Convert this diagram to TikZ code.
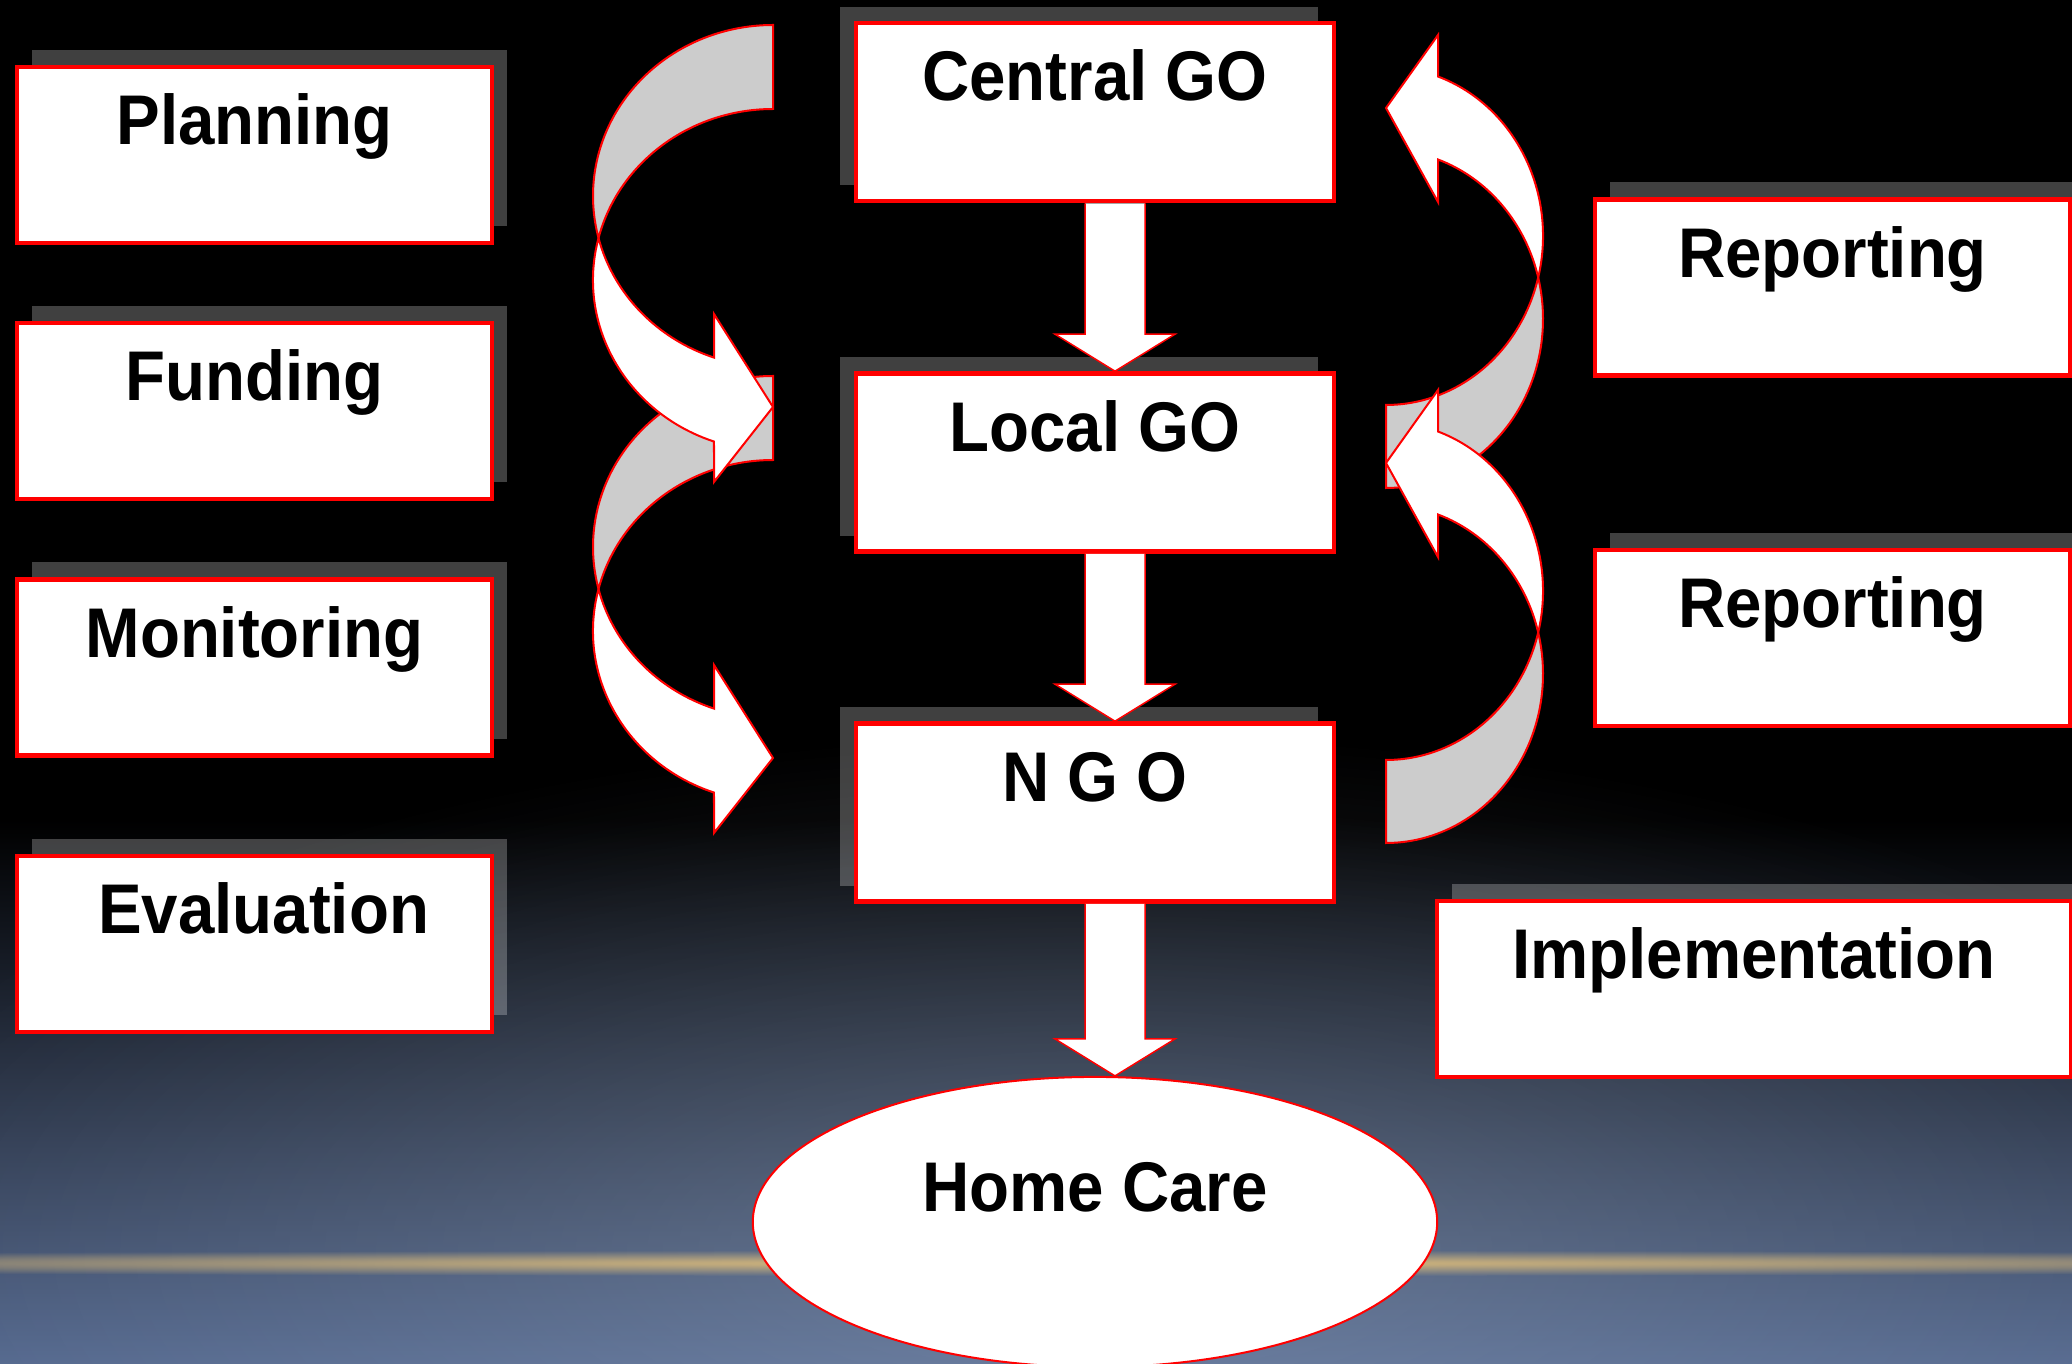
\documentclass[tikz,border=0pt]{standalone}
\usepackage{fontspec}
\newfontfamily\boxfont{Liberation Sans}[FakeStretch=0.93]
\usetikzlibrary{calc,shapes.geometric,shadows,fadings}
\definecolor{bgblue}{RGB}{84,104,142}
\definecolor{glowc}{RGB}{170,185,205}
\definecolor{streakc}{RGB}{240,200,120}
\definecolor{backgray}{RGB}{204,204,204}
\tikzfading[name=softglow, inner color=transparent!0, outer color=transparent!100]
\tikzset{
	box/.style={draw=red, line width=0.045cm, fill=white, inner sep=0pt,
		minimum width=4.75cm, text height=0.78cm, text depth=0.98cm,
		font=\boxfont\bfseries\fontsize{20}{24}\selectfont},
	midbox/.style={box, minimum width=4.78cm, text depth=1cm},
	sideshadow/.style={drop shadow={shadow xshift=0.15cm, shadow yshift=0.17cm, fill=white, opacity=0.25}},
	midshadow/.style={drop shadow={shadow xshift=-0.16cm, shadow yshift=0.16cm, fill=white, opacity=0.25}},
	blockarr/.style={draw=red, line width=0.015cm, fill=white, line join=miter},
	curvearr/.style={draw=red, line width=0.02cm, line join=miter},
}
\begin{document}
\begin{tikzpicture}[x=0.01cm, y=-0.01cm]
	\useasboundingbox (0,0) rectangle (2072,1364);
	\fill[black] (0,0) rectangle (2072,1364);
	\shade[top color=black, bottom color=bgblue] (0,820) rectangle (2072,1364);
	\fill[glowc, fill opacity=0.3, path fading=softglow] (1095,1250) ellipse[x radius=1300, y radius=520];
	\fill[streakc, fill opacity=0.85, path fading=softglow] (1095,1263) ellipse[x radius=2000, y radius=13];

	\foreach \dy in {351,0}{
		\begin{scope}[shift={(0,\dy)}]
			\draw[curvearr, fill=backgray] (773,25) arc[start angle=270, end angle=165.78, x radius=180, y radius=171]
				arc[start angle=194.22, end angle=270, x radius=180, y radius=171] -- cycle;
			\draw[curvearr, fill=white] (598.5,238) arc[start angle=194.22, end angle=109.13, x radius=180, y radius=171]
				-- (714,482) -- (773,407) -- (714,314) -- (714,357.6)
				arc[start angle=109.13, end angle=165.78, x radius=180, y radius=171] -- cycle;
		\end{scope}
	}
	\foreach \dy in {0,355}{
		\begin{scope}[shift={(0,\dy)}]
			\draw[curvearr, fill=backgray] (1386,488) arc[start angle=90, end angle=-14.22, x radius=157, y radius=169]
				arc[start angle=14.22, end angle=90, x radius=157, y radius=169] -- cycle;
			\draw[curvearr, fill=white] (1538.2,277.5) arc[start angle=14.22, end angle=-70.66, x radius=157, y radius=169]
				-- (1438,35) -- (1386,108) -- (1438,202) -- (1438,159.5)
				arc[start angle=-70.66, end angle=-14.22, x radius=157, y radius=169] -- cycle;
		\end{scope}
	}

	\node[box, sideshadow] (plan) at (254.5,155) {Planning};
	\node[box, sideshadow] (fund) at (254.5,411) {Funding};
	\node[box, sideshadow] (mon) at (254.5,667.5) {Monitoring};
	\node[box, sideshadow] (eval) at (254.5,944) {\ Evaluation};
	\node[midbox, midshadow] (cgo) at (1095,112) {Central GO};
	\node[midbox, midshadow] (lgo) at (1095,462.5) {Local GO};
	\node[midbox, midshadow] (ngo) at (1095,812.5) {N G O};
	\node[box, sideshadow] (rep1) at (1832.5,287.5) {Reporting};
	\node[box, sideshadow] (rep2) at (1832.5,638) {Reporting};
	\node[box, sideshadow, minimum width=6.34cm] (impl) at (1754,989) {Implementation};
	\node[ellipse, draw=red, line width=0.02cm, fill=white, minimum width=6.84cm, minimum height=2.9cm,
		inner sep=0pt, text height=0.5cm, text depth=0.7cm,
		font=\boxfont\bfseries\fontsize{20}{24}\selectfont] (home) at (1095,1222) {Home Care};

	\foreach \s/\t in {cgo/lgo,lgo/ngo,ngo/home}
		\draw[blockarr] ($(\s.south)+(-10,0)$) -- ($(\t.north)+(-10,-37)$) -- ($(\t.north)+(-40,-37)$)
			-- ($(\t.north)+(20,0)$) -- ($(\t.north)+(80,-37)$) -- ($(\t.north)+(50,-37)$) -- ($(\s.south)+(50,0)$);
\end{tikzpicture}
\end{document}
